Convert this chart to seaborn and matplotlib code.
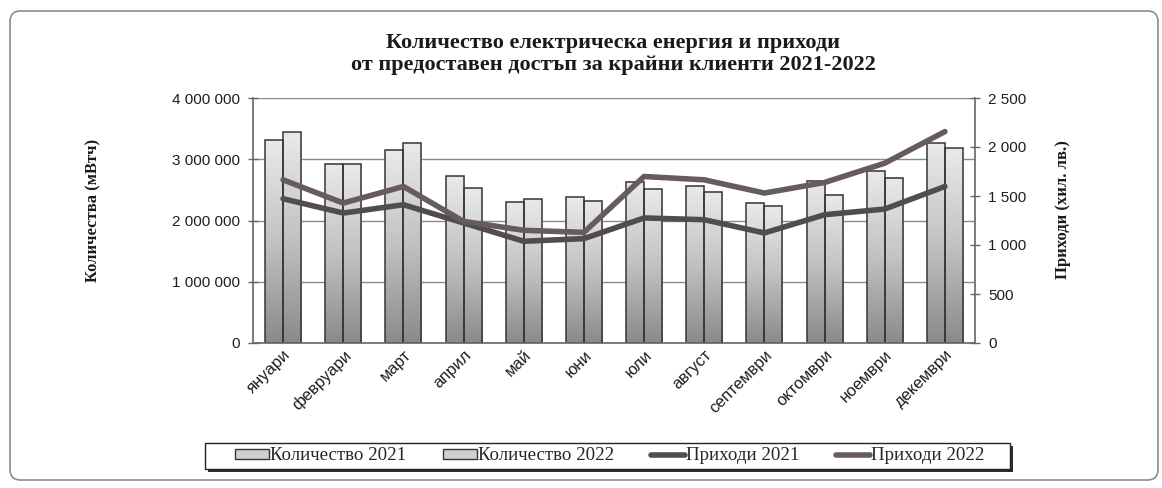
import numpy as np
import pandas as pd
import matplotlib
matplotlib.use("Agg")
import matplotlib.pyplot as plt
import matplotlib.transforms as mtransforms
from matplotlib.colors import LinearSegmentedColormap
from matplotlib.patches import FancyBboxPatch, Patch, Rectangle
from matplotlib.lines import Line2D
from matplotlib.ticker import FuncFormatter, FixedLocator
import seaborn as sns

# ---- data -------------------------------------------------------------
months = ["януари", "февруари", "март", "април", "май", "юни",
          "юли", "август", "септември", "октомври", "ноември", "декември"]
years = ["2021", "2022"]

# electricity quantity, MWh
qty_2021 = [3310000, 2930000, 3150000, 2720000, 2310000, 2380000,
            2630000, 2570000, 2290000, 2650000, 2810000, 3260000]
qty_2022 = [3440000, 2920000, 3270000, 2530000, 2350000, 2320000,
            2510000, 2470000, 2240000, 2420000, 2700000, 3180000]

# revenue, thousand BGN
rev_2021 = [1472, 1326, 1411, 1225, 1038, 1065,
            1276, 1258, 1123, 1309, 1367, 1597]
rev_2022 = [1665, 1428, 1597, 1241, 1150, 1129,
            1699, 1665, 1530, 1638, 1835, 2157]

left_ticks = [0, 1000000, 2000000, 3000000, 4000000]
right_ticks = [0, 500, 1000, 1500, 2000, 2500]

title_lines = ["Количество електрическа енергия и приходи",
               "от предоставен достъп за крайни клиенти 2021-2022"]
ylabel_left = "Количества (мВтч)"
ylabel_right = "Приходи (хил. лв.)"
legend_labels = ["Количество 2021", "Количество 2022", "Приходи 2021", "Приходи 2022"]

# ---- style ------------------------------------------------------------
sns.set_style("white")
plt.rcParams["font.family"] = ["Liberation Sans", "DejaVu Sans"]
serif = ["Liberation Serif", "DejaVu Serif"]

line_colors = ["#524c4e", "#665b5f"]
edge = "#363636"
axis_col = "#666666"

W, H = 1162, 488
fig = plt.figure(figsize=(W / 100, H / 100), dpi=100)
fig.patch.set_facecolor("white")

# outer frame with softly rounded corners
frame = FancyBboxPatch((10 / W, 8 / H), 1148 / W, 469 / H,
                       boxstyle="round,pad=0,rounding_size=0.009",
                       transform=fig.transFigure, facecolor="none",
                       edgecolor="#8c8c8c", linewidth=1.2, mutation_aspect=W / H)
fig.patches.append(frame)

ax = fig.add_axes([253 / W, 1 - 343 / H, 722 / W, 245 / H])

df = pd.DataFrame({
    "month": months * 2,
    "year": [years[0]] * len(months) + [years[1]] * len(months),
    "qty": qty_2021 + qty_2022,
})
sns.barplot(data=df, x="month", y="qty", hue="year", order=months,
            hue_order=years, palette=["#cccccc", "#cccccc"], saturation=1,
            width=0.6, gap=0, edgecolor=edge, linewidth=1.1,
            legend=False, ax=ax, errorbar=None)

# vertical gray gradient inside each bar
grad = np.linspace(0, 1, 256).reshape(-1, 1)
bar_cmap = LinearSegmentedColormap.from_list("bar", ["#8a8a8a", "#c2c2c2", "#eaeaea"])
for p in list(ax.patches):
    x0, y0, w, h = p.get_x(), p.get_y(), p.get_width(), p.get_height()
    if h <= 0:
        continue
    ax.imshow(grad, extent=[x0, x0 + w, y0, y0 + h], origin="lower",
              aspect="auto", cmap=bar_cmap, zorder=p.get_zorder() - 0.05,
              interpolation="bilinear")
    p.set_facecolor("none")

ax.set_xlim(-0.5, len(months) - 0.5)
ax.set_ylim(left_ticks[0], left_ticks[-1])
ax.set_axisbelow(True)
ax.yaxis.grid(True, color="#8a8a8a", linewidth=1.0)
ax.xaxis.grid(False)

def spaced(v, _pos=None):
    return f"{int(round(v)):,}".replace(",", " ")

ax.yaxis.set_major_locator(FixedLocator(left_ticks))
ax.yaxis.set_major_formatter(FuncFormatter(spaced))
ax.tick_params(axis="y", direction="inout", length=7, width=1, color=axis_col,
               labelsize=11, labelcolor="#1e1e1e", pad=6)

ax.set_xlabel("")
ax.set_ylabel("")
ax.set_xticks(np.arange(len(months)))
ax.set_xticklabels(months, rotation=45, ha="right", rotation_mode="anchor",
                   fontsize=12, color="#1e1e1e")
shift = mtransforms.ScaledTranslation(14 / 100, 0, fig.dpi_scale_trans)
for lbl in ax.get_xticklabels():
    lbl.set_transform(lbl.get_transform() + shift)
ax.tick_params(axis="x", which="major", length=0, pad=3)
ax.set_xticks(np.arange(-0.5, len(months), 1.0), minor=True)
ax.tick_params(axis="x", which="minor", direction="inout", length=8, width=1, color=axis_col)

for s in ["top", "right"]:
    ax.spines[s].set_visible(False)
for s in ["left", "bottom"]:
    ax.spines[s].set_color(axis_col)
    ax.spines[s].set_linewidth(1.2)

# revenue lines on the secondary axis
ax2 = ax.twinx()
pos = np.arange(len(months))
sns.lineplot(x=pos, y=rev_2021, ax=ax2, color=line_colors[0], linewidth=4, legend=False)
sns.lineplot(x=pos, y=rev_2022, ax=ax2, color=line_colors[1], linewidth=4, legend=False)
ax2.set_ylim(right_ticks[0], right_ticks[-1])
ax2.set_xlim(-0.5, len(months) - 0.5)
ax2.yaxis.set_major_locator(FixedLocator(right_ticks))
ax2.yaxis.set_major_formatter(FuncFormatter(spaced))
ax2.tick_params(axis="y", direction="inout", length=7, width=1, color=axis_col,
                labelsize=11, labelcolor="#1e1e1e", pad=6)
ax2.set_ylabel("")
for s in ["top", "left", "bottom"]:
    ax2.spines[s].set_visible(False)
ax2.spines["right"].set_color(axis_col)
ax2.spines["right"].set_linewidth(1.2)

# texts
fig.text(613 / W, 1 - 43 / H, title_lines[0], ha="center", va="center",
         fontsize=16, fontweight="bold", family=serif, color="#1a1a1a")
fig.text(613 / W, 1 - 65 / H, title_lines[1], ha="center", va="center",
         fontsize=16, fontweight="bold", family=serif, color="#1a1a1a")
fig.text(93 / W, 1 - 210 / H, ylabel_left, rotation=90, ha="center", va="center",
         fontsize=12, fontweight="bold", family=serif, color="#1a1a1a")
fig.text(1063 / W, 1 - 210 / H, ylabel_right, rotation=90, ha="center", va="center",
         fontsize=12, fontweight="bold", family=serif, color="#1a1a1a")

# legend box with a drop shadow
lx0, lx1, ly0, ly1 = 205, 1010, 443, 469
fig.patches.append(Rectangle(((lx0 + 3) / W, 1 - (ly1 + 3) / H), (lx1 - lx0) / W,
                             (ly1 - ly0) / H, transform=fig.transFigure,
                             facecolor="#2e2e2e", edgecolor="none", zorder=5))
fig.patches.append(Rectangle((lx0 / W, 1 - ly1 / H), (lx1 - lx0) / W,
                             (ly1 - ly0) / H, transform=fig.transFigure,
                             facecolor="white", edgecolor="#222222",
                             linewidth=1.0, zorder=6))

handles = [
    Patch(facecolor="#cfcfcf", edgecolor=edge, linewidth=1.0),
    Patch(facecolor="#cfcfcf", edgecolor=edge, linewidth=1.0),
    Line2D([0], [0], color=line_colors[0], linewidth=4),
    Line2D([0], [0], color=line_colors[1], linewidth=4),
]
leg = fig.legend(handles, legend_labels, loc="center",
                 bbox_to_anchor=(610 / W, 1 - 456 / H), ncol=4,
                 frameon=False, prop={"family": serif, "size": 13.6},
                 handlelength=1.8, handleheight=0.45, handletextpad=0.05,
                 columnspacing=1.95, borderpad=0.2)
leg.set_zorder(7)

fig.savefig("out.png", dpi=100, facecolor="white")
